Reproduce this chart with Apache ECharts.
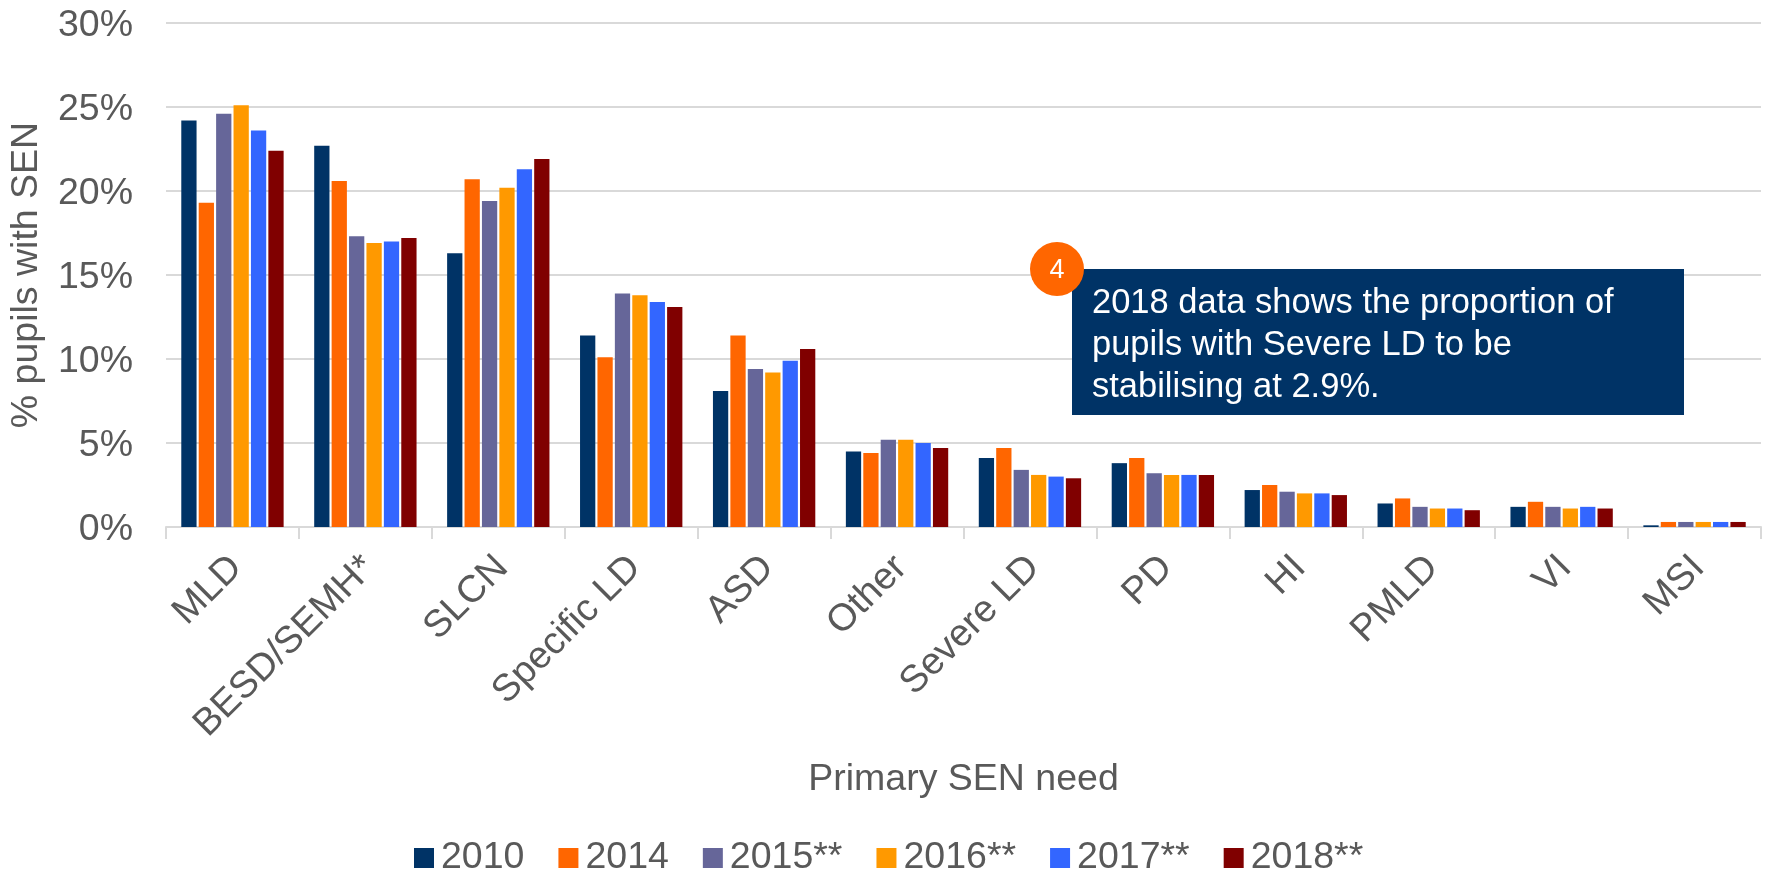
<!DOCTYPE html>
<html><head><meta charset="utf-8">
<style>html,body{margin:0;padding:0;background:#fff}#c{width:1766px;height:872px}</style>
<script src="https://cdn.jsdelivr.net/npm/echarts@6/dist/echarts.min.js"></script>
</head><body><div id="c"></div>
<script>
const categories = ['MLD','BESD/SEMH*','SLCN','Specific LD','ASD','Other','Severe LD','PD','HI','PMLD','VI','MSI'];
const y2010 = [24.2,22.7,16.3,11.4,8.1,4.5,4.1,3.8,2.2,1.4,1.2,0.1];
const y2014 = [19.3,20.6,20.7,10.1,11.4,4.4,4.7,4.1,2.5,1.7,1.5,0.3];
const y2015 = [24.6,17.3,19.4,13.9,9.4,5.2,3.4,3.2,2.1,1.2,1.2,0.3];
const y2016 = [25.1,16.9,20.2,13.8,9.2,5.2,3.1,3.1,2.0,1.1,1.1,0.3];
const y2017 = [23.6,17.0,21.3,13.4,9.9,5.0,3.0,3.1,2.0,1.1,1.2,0.3];
const y2018 = [22.4,17.2,21.9,13.1,10.6,4.7,2.9,3.1,1.9,1.0,1.1,0.3];
const seriesNames = ['2010','2014','2015**','2016**','2017**','2018**'];
const seriesValues = [y2010,y2014,y2015,y2016,y2017,y2018];
const colors = ['#003366','#FF6600','#666699','#FF9900','#3366FF','#800000'];
const noteLines = '2018 data shows the proportion of\npupils with Severe LD to be\nstabilising at 2.9%.';
const font = '"Liberation Sans", Arial, sans-serif';
const ink = '#595959';
const chart = echarts.init(document.getElementById('c'));
chart.setOption({
  animation:false,
  textStyle:{fontFamily:font},
  color:colors,
  grid:{left:166,right:5,top:23,bottom:345,containLabel:false,outerBoundsMode:'none'},
  legend:{
    top:834,left:409,itemWidth:20,itemHeight:20,itemGap:34,
    icon:'rect',
    textStyle:{color:ink,fontSize:37.5,fontFamily:font,padding:[0,0,0,2]},
    data:seriesNames
  },
  xAxis:{
    type:'category',data:categories,
    name:'Primary SEN need',nameLocation:'middle',nameGap:234,
    nameTextStyle:{color:ink,fontSize:37.5,fontFamily:font},
    axisLine:{lineStyle:{color:'#D9D9D9',width:2}},
    axisTick:{show:true,alignWithLabel:false,length:12,lineStyle:{color:'#D9D9D9',width:2}},
    axisLabel:{color:ink,fontSize:38,fontFamily:font,rotate:45,margin:31,verticalAlign:'top',lineHeight:11,interval:0}
  },
  yAxis:{
    type:'value',min:0,max:30,interval:5,
    name:'% pupils with SEN',nameLocation:'middle',nameGap:120,nameRotate:90,nameMoveOverlap:false,
    nameTextStyle:{color:ink,fontSize:37.5,fontFamily:font},
    axisLine:{show:false},axisTick:{show:false},
    axisLabel:{color:ink,fontSize:37.5,fontFamily:font,margin:33,verticalAlign:'top',lineHeight:6,formatter:'{value}%'},
    splitLine:{lineStyle:{color:'#D9D9D9',width:2}}
  },
  series:seriesNames.map((n,i)=>({
    name:n,type:'bar',data:seriesValues[i],
    barCategoryGap:'23%',barGap:'14%',
    itemStyle:{color:colors[i]}
  })),
  graphic:[
    {type:'rect',z:50,shape:{x:1072,y:269,width:612,height:146},style:{fill:'#003366'}},
    {type:'circle',z:51,shape:{cx:1057,cy:269,r:27},style:{fill:'#FF6600'}},
    {type:'text',z:52,x:1057,y:271,style:{text:'4',fill:'#fff',font:'27px '+font,textAlign:'center',textVerticalAlign:'middle'}},
    {type:'text',z:52,x:1092,y:282,style:{text:noteLines,fill:'#fff',font:'34.5px '+font,lineHeight:42}}
  ]
});
</script></body></html>
